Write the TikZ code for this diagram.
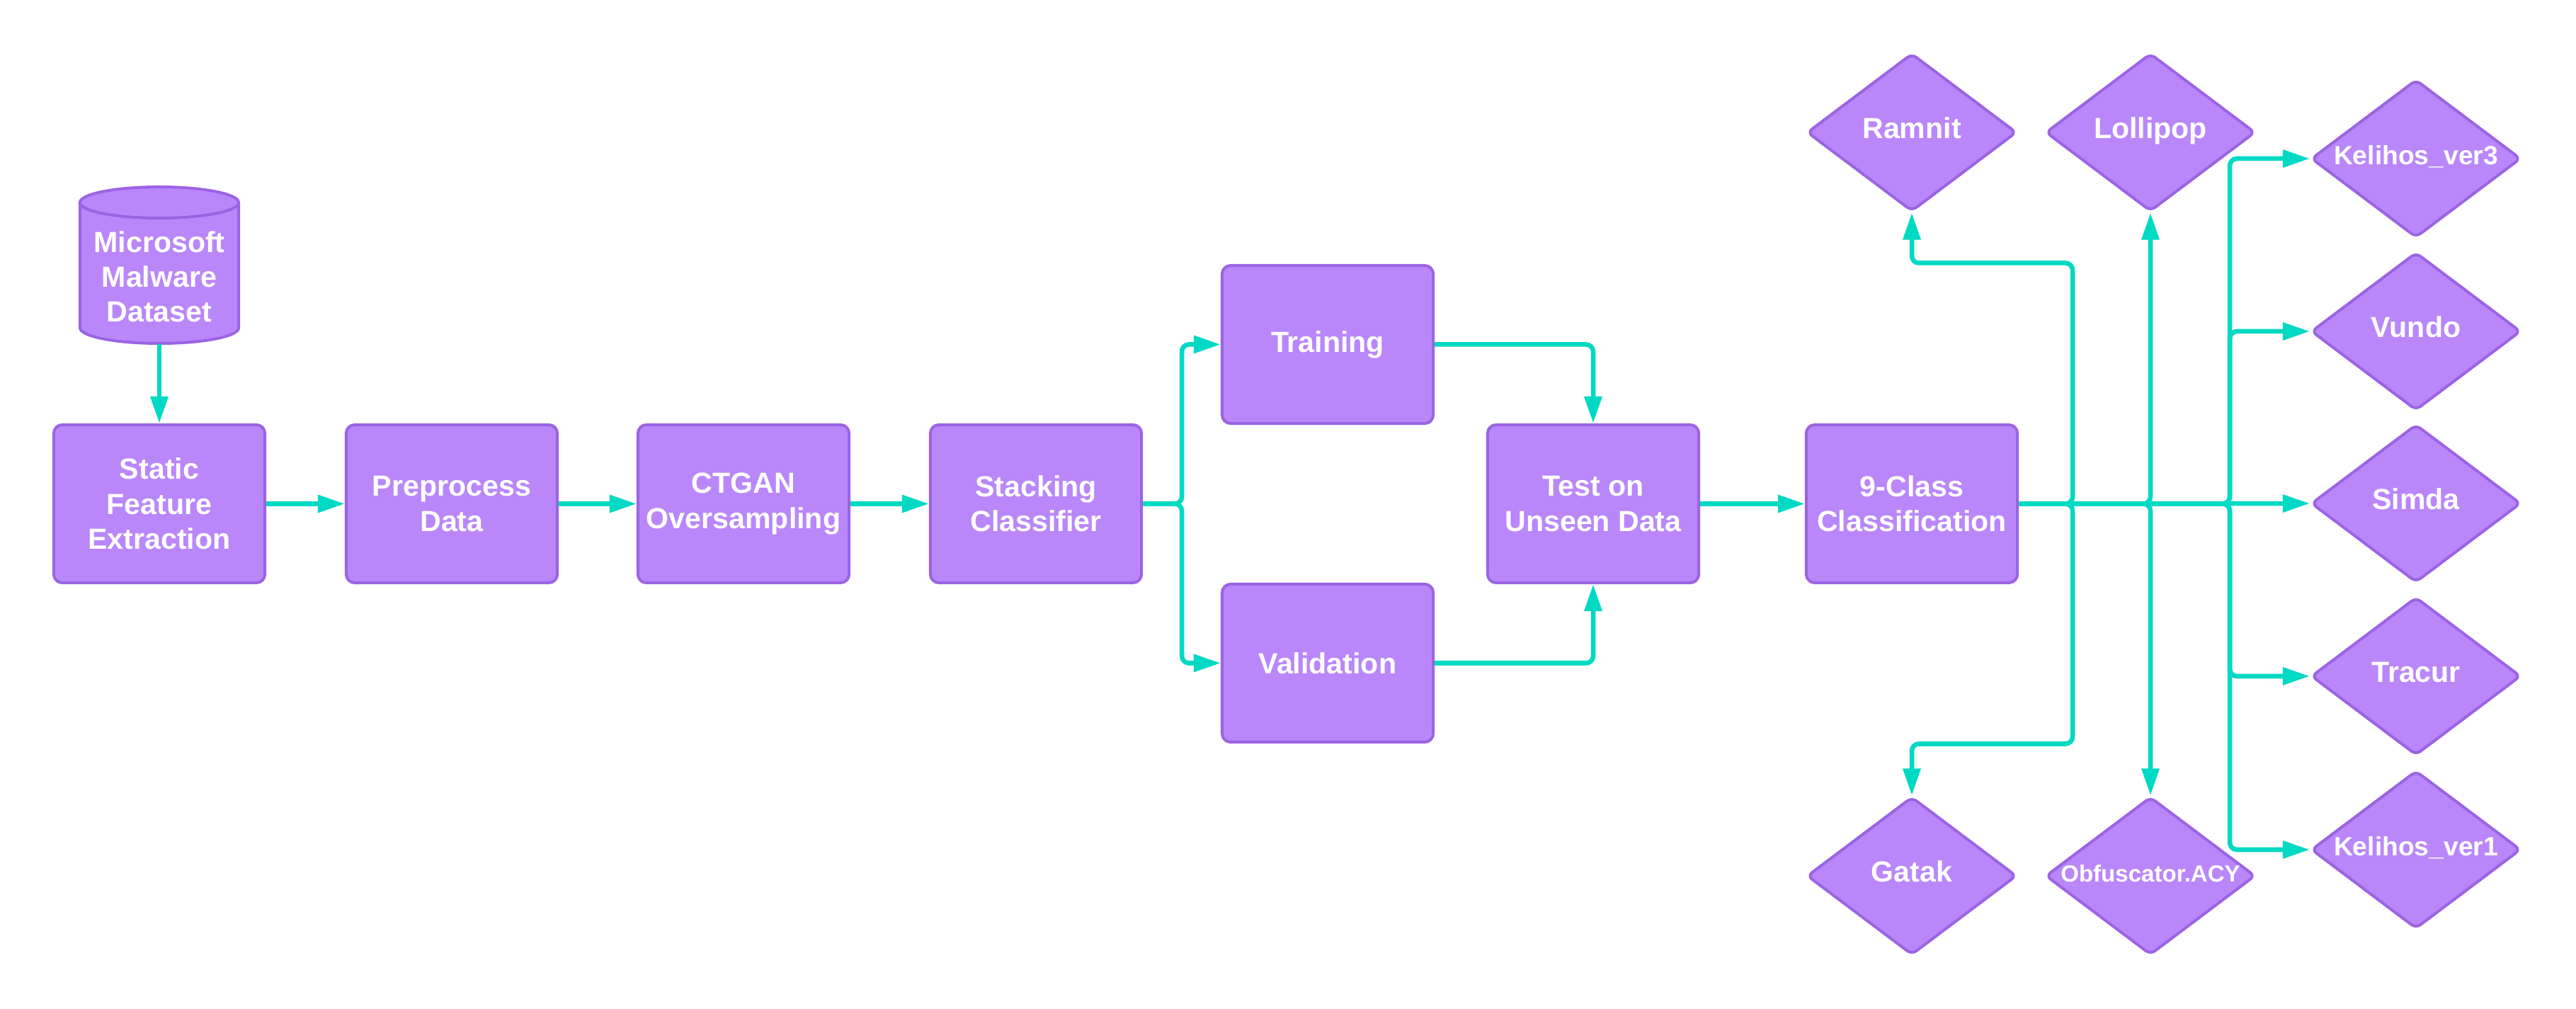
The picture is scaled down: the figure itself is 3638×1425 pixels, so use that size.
\documentclass[tikz,border=0pt]{standalone}
\usepackage{fontspec}
\setmainfont{Liberation Sans}
\usetikzlibrary{arrows.meta,shapes.geometric}
\definecolor{boxfill}{HTML}{B987FA}
\definecolor{boxline}{HTML}{9B64E3}
\definecolor{arrowc}{HTML}{00D9C3}
\begin{document}
\begin{tikzpicture}[x=0.01cm,y=-0.01cm,
  box/.style={draw=boxline, fill=boxfill, line width=0.04cm, rounded corners=0.12cm,
    minimum width=2.98cm, minimum height=2.23cm, align=center, text=white,
    font=\bfseries\fontsize{11.7}{14}\selectfont, inner sep=0pt},
  dia/.style={diamond, draw=boxline, fill=boxfill, line width=0.04cm, rounded corners=0.08cm,
    minimum width=2.96cm, minimum height=2.23cm, text=white, aspect=1.33,
    font=\bfseries\fontsize{11.7}{14}\selectfont, inner sep=0pt, text height=0.75em, text depth=0.25em},
  dbtxt/.style={align=center, text=white, font=\bfseries\fontsize{11.7}{14}\selectfont, inner sep=0pt},
  arr/.style={draw=arrowc, line width=0.065cm, rounded corners=0.1cm,
    -{Triangle[length=0.38cm,width=0.24cm]}}]
\useasboundingbox (0,0) rectangle (3638,1425);
% cylinder
\filldraw[draw=boxline, fill=boxfill, line width=0.04cm]
  (113,286) -- (113,463) arc[start angle=180, end angle=360, x radius=1.12cm, y radius=0.22cm]
  -- (337,286) arc[start angle=0, end angle=180, x radius=1.12cm, y radius=0.22cm] -- cycle;
\draw[draw=boxline, line width=0.04cm]
  (113,286) arc[start angle=180, end angle=360, x radius=1.12cm, y radius=0.22cm];
\node[dbtxt] (db) at (225,391) {Microsoft\\Malware\\Dataset};
\coordinate (dbbot) at (225,486);
% boxes
\node[box] (sfe) at (225,711.5) {Static\\Feature\\Extraction};
\node[box] (pre) at (638,711.5) {Preprocess\\Data};
\node[box] (ctg) at (1050,711.5) {CTGAN\\Oversampling};
\node[box] (stk) at (1463,711.5) {Stacking\\Classifier};
\node[box] (trn) at (1875,486.5) {Training};
\node[box] (val) at (1875,936.5) {Validation};
\node[box] (tst) at (2250,711.5) {Test on\\Unseen Data};
\node[box] (cls) at (2700,711.5) {9-Class\\Classification};
% diamonds
\node[dia] (ram) at (2700,187) {Ramnit};
\node[dia] (lol) at (3037,187) {Lollipop};
\node[dia, font=\bfseries\fontsize{10.6}{13}\selectfont] (k3) at (3412,224) {Kelihos\_ver3};
\node[dia] (vun) at (3412,468) {Vundo};
\node[dia] (sim) at (3412,711) {Simda};
\node[dia] (tra) at (3412,955) {Tracur};
\node[dia, font=\bfseries\fontsize{10.6}{13}\selectfont] (k1) at (3412,1200) {Kelihos\_ver1};
\node[dia] (gat) at (2700,1237) {Gatak};
\node[dia, font=\bfseries\fontsize{9.4}{11}\selectfont] (obf) at (3037,1237) {\makebox[0pt]{Obfuscator.ACY}};
% connectors
\draw[arr] (dbbot) -- (sfe.north);
\draw[arr] (sfe) -- (pre);
\draw[arr] (pre) -- (ctg);
\draw[arr] (ctg) -- (stk);
\draw[arr] (stk.east) -- ++(55,0) |- (trn.west);
\draw[arr] (stk.east) -- ++(55,0) |- (val.west);
\draw[arr] (trn.east) -| (tst.north);
\draw[arr] (val.east) -| (tst.south);
\draw[arr] (tst) -- (cls);
\draw[arr] (cls.east) -- ++(76,0) -- ++(0,-340) -| (ram.south);
\draw[arr] (cls.east) -- ++(76,0) -- ++(0,339) -| (gat.north);
\draw[arr] (cls.east) -| (lol.south);
\draw[arr] (cls.east) -| (obf.north);
\draw[arr] (cls.east) -- ++(298,0) |- (k3.west);
\draw[arr] (cls.east) -- ++(298,0) |- (vun.west);
\draw[arr] (cls.east) -- (sim.west);
\draw[arr] (cls.east) -- ++(298,0) |- (tra.west);
\draw[arr] (cls.east) -- ++(298,0) |- (k1.west);
\end{tikzpicture}
\end{document}
